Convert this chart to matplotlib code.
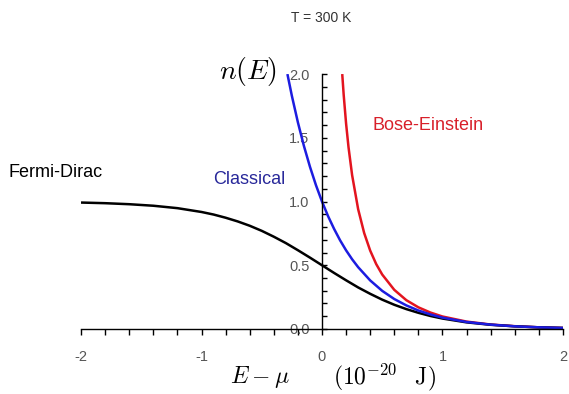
"""
Occupation number n(E) vs E - mu at T = 300 K:
Fermi-Dirac, classical (Maxwell-Boltzmann) and Bose-Einstein.
"""

import matplotlib
matplotlib.use("Agg")
import matplotlib.pyplot as plt
from matplotlib.ticker import MultipleLocator

# ── Data (E - mu in 1e-20 J) ─────────────────────────────────────────────────
fd_x = [-2.0, -1.8, -1.6, -1.4, -1.2, -1.0, -0.9, -0.8, -0.7, -0.6, -0.5,
        -0.4, -0.3, -0.2, -0.1, 0.0, 0.1, 0.2, 0.3, 0.4, 0.5, 0.6, 0.7,
        0.8, 0.9, 1.0, 1.2, 1.4, 1.6, 1.8, 2.0]
fd_y = [0.992, 0.987, 0.979, 0.967, 0.948, 0.918, 0.898, 0.873, 0.844,
        0.810, 0.770, 0.724, 0.674, 0.618, 0.560, 0.500, 0.440, 0.382,
        0.326, 0.276, 0.230, 0.190, 0.156, 0.127, 0.102, 0.082, 0.052,
        0.033, 0.021, 0.013, 0.008]

cl_x = [-0.287, -0.25, -0.2, -0.15, -0.1, -0.05, 0.0, 0.05, 0.1, 0.15,
        0.2, 0.25, 0.3, 0.4, 0.5, 0.6, 0.7, 0.8, 0.9, 1.0, 1.2, 1.4, 1.6,
        1.8, 2.0]
cl_y = [2.0, 1.829, 1.621, 1.436, 1.273, 1.128, 1.0, 0.886, 0.786, 0.696,
        0.617, 0.547, 0.485, 0.381, 0.299, 0.235, 0.185, 0.145, 0.114,
        0.089, 0.055, 0.034, 0.021, 0.013, 0.008]

be_x = [0.168, 0.18, 0.2, 0.22, 0.25, 0.3, 0.35, 0.4, 0.45, 0.5, 0.6, 0.7,
        0.8, 0.9, 1.0, 1.2, 1.4, 1.6, 1.8, 2.0]
be_y = [2.0, 1.837, 1.611, 1.427, 1.207, 0.940, 0.753, 0.615, 0.509,
        0.427, 0.307, 0.226, 0.170, 0.129, 0.098, 0.058, 0.035, 0.022,
        0.013, 0.008]

x_ticks = [-2, -1, 0, 1, 2]
y_ticks = [0.0, 0.5, 1.0, 1.5, 2.0]

# ── Plot ─────────────────────────────────────────────────────────────────────
plt.rcParams["font.family"] = ["Liberation Sans", "DejaVu Sans"]
plt.rcParams["mathtext.fontset"] = "cm"

fig = plt.figure(figsize=(5.69, 3.94), dpi=100)
ax = fig.add_axes([0.1424, 0.165, 0.847, 0.647])

ax.plot(be_x, be_y, color="#e3141f", lw=1.8, solid_capstyle="butt")
ax.plot(fd_x, fd_y, color="black", lw=1.8, solid_capstyle="butt")
ax.plot(cl_x, cl_y, color="#1c1ce0", lw=1.8, solid_capstyle="butt")

ax.set_xlim(-2, 2)
ax.set_ylim(0, 2)

for side in ("top", "right"):
    ax.spines[side].set_visible(False)
ax.spines["left"].set_position(("data", 0))
ax.spines["left"].set_linewidth(1.0)
ax.spines["bottom"].set_linewidth(1.0)

ax.set_xticks(x_ticks)
ax.set_xticklabels([str(t) for t in x_ticks])
ax.set_yticks(y_ticks)
ax.set_yticklabels([f"{t:.1f}" for t in y_ticks])
ax.xaxis.set_minor_locator(MultipleLocator(0.2))
ax.yaxis.set_minor_locator(MultipleLocator(0.1))

ax.tick_params(axis="x", which="both", direction="out", length=4, width=1,
               pad=11, labelsize=10.5, labelcolor="#555555")
ax.tick_params(axis="y", which="both", direction="in", length=3.5, width=1,
               pad=9, labelsize=10.5, labelcolor="#555555")

ax.text(-0.37, 2.02, r"$n(E)$", fontsize=20, ha="right", va="center")
ax.text(-0.515, -0.38, r"$E-\mu$", fontsize=17, ha="center", va="center")
ax.text(0.09, -0.38, r"$(10^{-20}\;\;\;\mathrm{J})$", fontsize=17,
        ha="left", va="center")

fig.text(0.564, 0.955, "T = 300 K", fontsize=10, color="#333333",
         ha="center", va="center")

ax.text(-2.6, 1.23, "Fermi-Dirac", fontsize=13, color="black",
        ha="left", va="center")
ax.text(-0.9, 1.17, "Classical", fontsize=13, color="#28289a",
        ha="left", va="center")
ax.text(0.42, 1.6, "Bose-Einstein", fontsize=13, color="#d8202a",
        ha="left", va="center")

fig.savefig("out.png", dpi=100)
